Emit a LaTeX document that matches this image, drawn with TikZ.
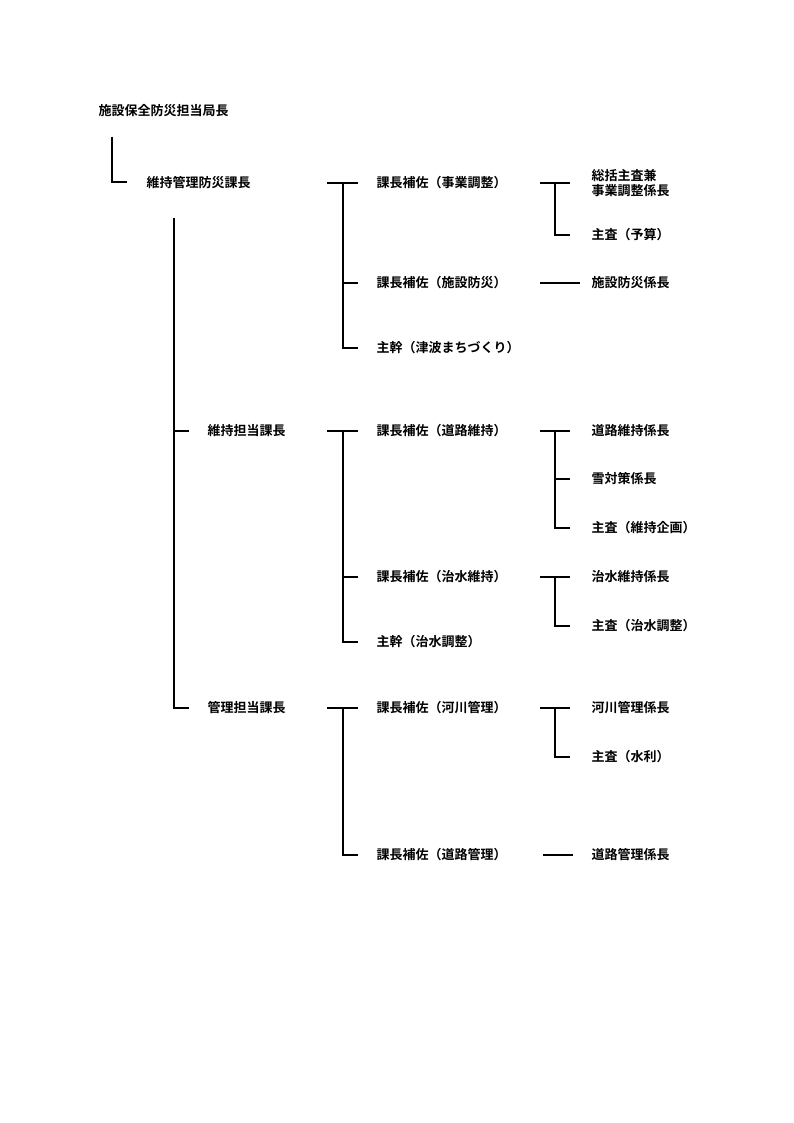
\documentclass[tikz,border=0pt]{standalone}
\usepackage{fontspec}
\setmainfont{Noto Sans CJK JP Bold}
\begin{document}
\begin{tikzpicture}[x=1pt,y=-1pt,line width=1.1pt,
  lbl/.style={anchor=west,inner sep=0pt,font=\fontsize{13}{15}\selectfont}]
\useasboundingbox (0,0) rectangle (794,1123);
% labels
\node[lbl] (kyoku) at (98,111) {施設保全防災担当局長};
\node[lbl] (ijikanri) at (146,183) {維持管理防災課長};
\node[lbl] (iji) at (207,431) {維持担当課長};
\node[lbl] (kanri) at (207,708) {管理担当課長};
\node[lbl] (hosa1) at (376,183) {課長補佐（事業調整）};
\node[lbl] (hosa2) at (376,283) {課長補佐（施設防災）};
\node[lbl] (shukan1) at (376,348) {主幹（津波まちづくり）};
\node[lbl] (hosa3) at (376,431) {課長補佐（道路維持）};
\node[lbl] (hosa4) at (376,577) {課長補佐（治水維持）};
\node[lbl] (shukan2) at (376,642) {主幹（治水調整）};
\node[lbl] (hosa5) at (376,708) {課長補佐（河川管理）};
\node[lbl] (hosa6) at (376,855) {課長補佐（道路管理）};
\node[lbl,align=left] (kakari1) at (591,183) {総括主査兼\\事業調整係長};
\node[lbl] (shusa1) at (591,235) {主査（予算）};
\node[lbl] (kakari2) at (591,283) {施設防災係長};
\node[lbl] (kakari3) at (591,431) {道路維持係長};
\node[lbl] (kakari4) at (591,479) {雪対策係長};
\node[lbl] (shusa2) at (591,528) {主査（維持企画）};
\node[lbl] (kakari5) at (591,577) {治水維持係長};
\node[lbl] (shusa3) at (591,626) {主査（治水調整）};
\node[lbl] (kakari6) at (591,708) {河川管理係長};
\node[lbl] (shusa4) at (591,757) {主査（水利）};
\node[lbl] (kakari7) at (591,855) {道路管理係長};
% lines
\draw (112,137) |- (127,182);
\draw (174,218) -- (174,708) -- (189,708);
\draw (174,431) -- (189,431);
\foreach \y/\z in {183/348,431/642,708/855}{
  \draw (327,\y) -- (358,\y);
  \draw (343,\y) |- (358,\z);
}
\foreach \y in {283,577}{\draw (343,\y) -- (358,\y);}
\foreach \y/\z in {183/235,431/528,577/626,708/757}{
  \draw (540,\y) -- (570,\y);
  \draw (555,\y) |- (570,\z);
}
\draw (555,479) -- (570,479);
\draw (540,283) -- (580,283);
\draw (543,855) -- (573,855);
\end{tikzpicture}
\end{document}
